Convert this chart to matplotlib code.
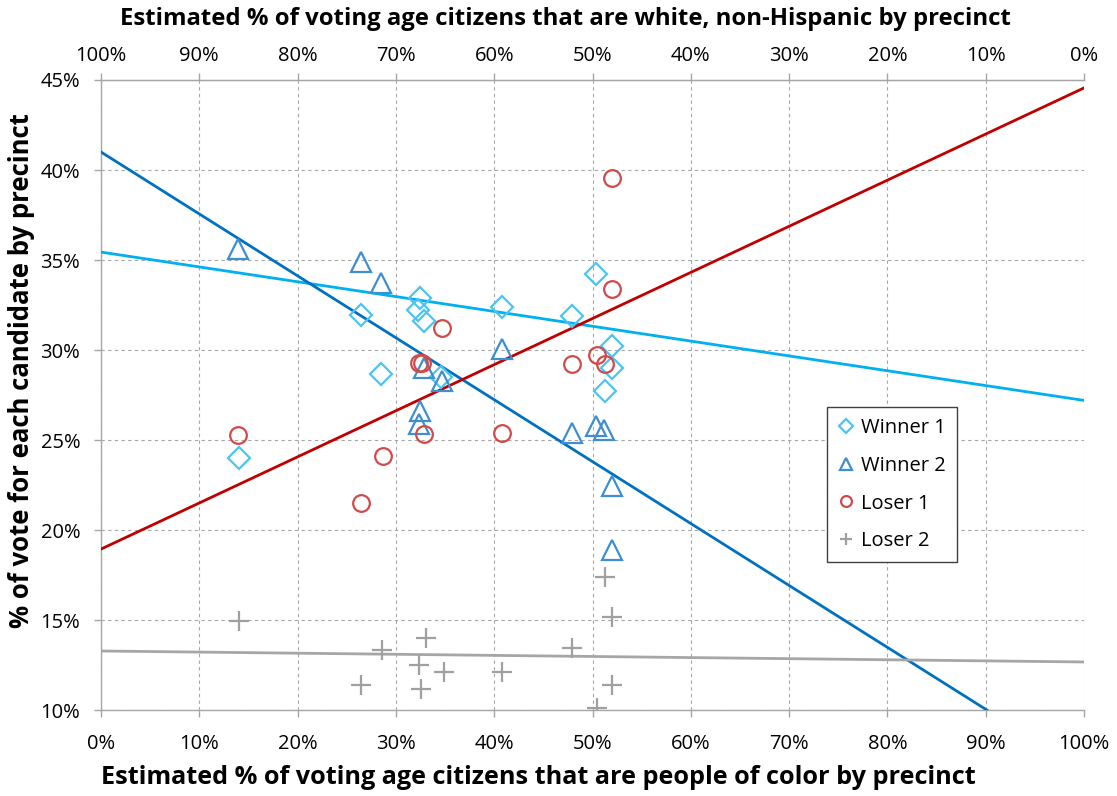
import matplotlib
matplotlib.use("Agg")
import matplotlib.pyplot as plt
from matplotlib.ticker import FuncFormatter

plt.rcParams['font.family'] = ['Open Sans', 'DejaVu Sans']

# x = estimated % people of color per precinct
w1_x = [14.0, 26.4, 28.5, 32.25, 32.5, 32.9, 34.6, 40.8, 47.9, 50.4, 51.3, 52.0, 52.0]
w1_y = [24.0, 31.95, 28.67, 32.22, 32.87, 31.6, 28.5, 32.4, 31.9, 34.25, 27.7, 30.2, 29.0]

w2_x = [13.9, 26.4, 28.5, 32.3, 32.5, 32.9, 34.7, 40.8, 47.9, 50.4, 51.2, 52.0, 52.0]
w2_y = [35.6, 34.9, 33.7, 25.9, 26.6, 29.0, 28.3, 30.07, 25.4, 25.8, 25.55, 22.46, 18.87]

l1_x = [13.95, 26.5, 28.7, 32.4, 32.7, 32.9, 34.7, 40.8, 47.9, 50.5, 51.3, 52.0, 52.0]
l1_y = [25.28, 21.5, 24.1, 29.26, 29.3, 25.33, 31.2, 25.4, 29.2, 29.74, 29.2, 33.4, 39.56]

l2_x = [14.0, 26.5, 28.6, 32.4, 32.6, 33.1, 34.9, 40.8, 47.9, 50.5, 51.3, 52.0, 52.0]
l2_y = [14.93, 11.4, 13.35, 12.52, 11.17, 14.0, 12.1, 12.1, 13.47, 10.1, 17.38, 15.16, 11.39]

# linear trend lines, value at x=0% and x=100%
trend_x = [0, 100]
w1_trend = [35.44, 27.2]
w2_trend = [41.0, 6.6]
l1_trend = [18.94, 44.56]
l2_trend = [13.28, 12.67]

W, H = 1117, 796
fig = plt.figure(figsize=(W / 100, H / 100), dpi=100)
ax = fig.add_axes([0.0904, 0.108, 0.8801, 0.7915])

grid_c = '#A6A6A6'
ax.set_xlim(0, 100)
ax.set_ylim(10, 45)
ax.set_xticks(range(0, 101, 10))
ax.set_yticks(range(10, 46, 5))
ax.grid(True, color=grid_c, linestyle=(0, (3, 3)), linewidth=0.8, zorder=0)
ax.spines['right'].set_visible(False)
for s in ['left', 'bottom', 'top']:
    ax.spines[s].set_color(grid_c)
    ax.spines[s].set_linewidth(1.0)

pct = FuncFormatter(lambda v, p: f"{v:.0f}%")
ax.xaxis.set_major_formatter(pct)
ax.yaxis.set_major_formatter(pct)
ax.tick_params(axis='both', colors=grid_c, labelcolor='black', labelsize=14.5,
               length=5, width=1.0, direction='out')
ax.tick_params(axis='x', pad=12)
ax.tick_params(axis='y', pad=10)

top = ax.secondary_xaxis('top', functions=(lambda v: 100 - v, lambda v: 100 - v))
top.set_xticks(range(0, 101, 10))
top.xaxis.set_major_formatter(pct)
top.tick_params(colors=grid_c, labelcolor='black', labelsize=14.5, length=5,
                width=1.0, direction='out', pad=5)
top.spines['top'].set_color(grid_c)

# axis titles, placed where they sit in the original
fig.text(565 / W, 1 - 19 / H,
         "Estimated % of voting age citizens that are white, non-Hispanic by precinct",
         fontsize=17.2, fontweight='bold', ha='center', va='center')
fig.text(538 / W, 1 - 777 / H,
         "Estimated % of voting age citizens that are people of color by precinct",
         fontsize=18.2, fontweight='bold', ha='center', va='center')
fig.text(22 / W, 1 - 371 / H, "% of vote for each candidate by precinct",
         fontsize=18.5, fontweight='bold', rotation=90, ha='center', va='center')

ax.plot(trend_x, w1_trend, color='#00B0F0', lw=2.0, zorder=3)
ax.plot(trend_x, w2_trend, color='#0070C0', lw=2.0, zorder=3)
ax.plot(trend_x, l1_trend, color='#C00000', lw=2.0, zorder=3)
ax.plot(trend_x, l2_trend, color='#A6A6A6', lw=2.0, zorder=3)

mk = dict(linestyle='none', markerfacecolor='none', markeredgewidth=1.6, zorder=4)
ax.plot(w1_x, w1_y, marker='D', markersize=11.5, markeredgecolor='#4CC4F0',
        label='Winner 1', **mk)
ax.plot(w2_x, w2_y, marker='^', markersize=14, markeredgecolor='#3F8ED2',
        label='Winner 2', **mk)
ax.plot(l1_x, l1_y, marker='o', markersize=12, markeredgecolor='#D04A4A',
        label='Loser 1', **mk)
ax.plot(l2_x, l2_y, marker='+', markersize=14, markeredgecolor='#A0A0A0',
        label='Loser 2', **mk)

leg = ax.legend(loc='upper left', bbox_to_anchor=(0.7385, 0.481), fontsize=14.5,
                frameon=True, fancybox=False, edgecolor='#404040', framealpha=1,
                handlelength=0.8, handletextpad=0.35, labelspacing=0.88,
                borderpad=0.55, borderaxespad=0, markerscale=0.65)
leg.get_frame().set_linewidth(1.0)

fig.savefig('out.png', dpi=100)
